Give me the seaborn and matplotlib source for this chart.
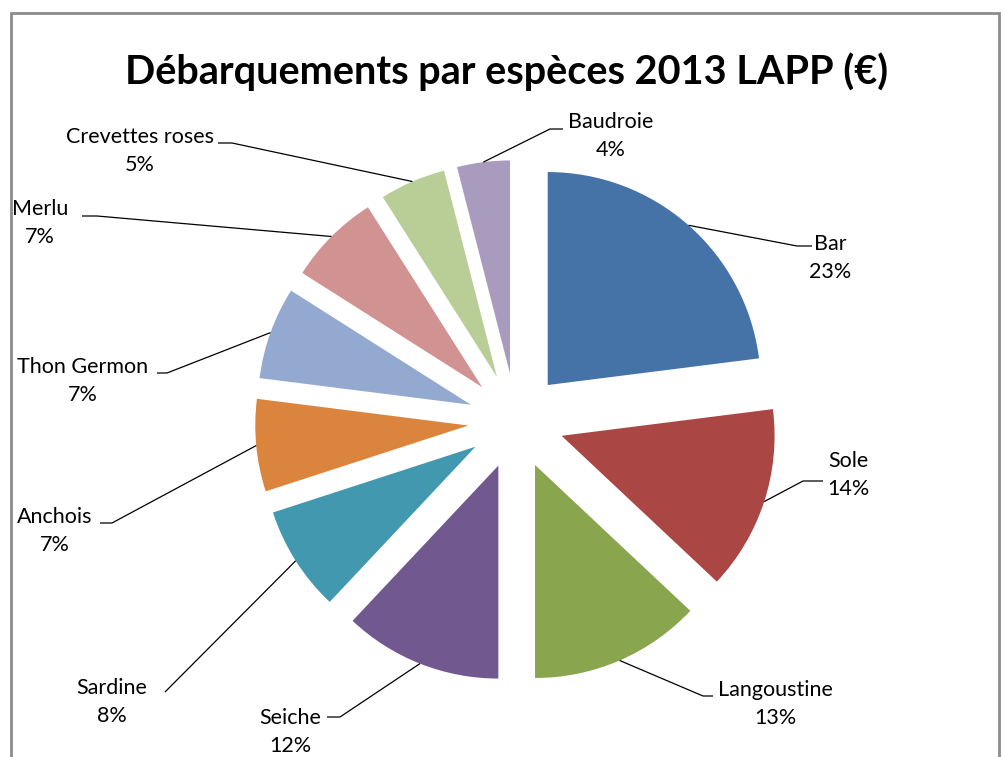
import numpy as np
import matplotlib
matplotlib.use("Agg")
import matplotlib.pyplot as plt
from matplotlib.patches import Rectangle
import seaborn as sns

# Data
species = ["Bar", "Sole", "Langoustine", "Seiche", "Sardine", "Anchois",
           "Thon Germon", "Merlu", "Crevettes roses", "Baudroie"]
shares = [23, 14, 13, 12, 8, 7, 7, 7, 5, 4]
title = "Débarquements par espèces 2013 LAPP (€)"
colors = ["#4572A7", "#AA4643", "#89A54E", "#71588F", "#4198AF",
          "#DB843D", "#93A9CF", "#D19392", "#B9CD96", "#A99BBD"]

# Layout (pixels of the 1005x757 output)
W, H = 1005, 757
CX, CY, R = 516, 421, 213
EXPLODE = 0.225
# label text centre (x, name-line y), leader elbow x, stub end x, stub y
label_layout = [
    (830, 244, 797, 812, 246),
    (848, 461, 803, 823, 481),
    (775, 690, 703, 713, 696),
    (290, 718, 340, 327, 717),
    (112, 688, 165, 165, 692),
    (55, 517, 112, 100, 523),
    (83, 367, 167, 157, 373),
    (40, 209, 97, 82, 216),
    (140, 137, 232, 218, 143),
    (611, 122, 550, 563, 129),
]


def to_data(px, py):
    return (px - CX) / R, (CY - py) / R


sns.set_theme(style="white")
plt.rcParams["font.family"] = ["Lato", "DejaVu Sans"]

fig = plt.figure(figsize=(W / 100, H / 100), dpi=100)
ax = fig.add_axes([0, 0, 1, 1])

wedges, _ = ax.pie(shares, colors=colors, explode=[EXPLODE] * len(shares),
                   startangle=90, counterclock=False, radius=1,
                   wedgeprops=dict(linewidth=0))

ax.set_xlim(-CX / R, (W - CX) / R)
ax.set_ylim((CY - H) / R, CY / R)
ax.set_aspect("equal")
ax.axis("off")

# Leader lines and labels
for w, name, pct, (tx, ty, ex, sx, sy) in zip(wedges, species, shares, label_layout):
    th = np.deg2rad((w.theta1 + w.theta2) / 2)
    ax_pt = ((1 + EXPLODE) * np.cos(th), (1 + EXPLODE) * np.sin(th))
    elbow = to_data(ex, sy)
    stub = to_data(sx, sy)
    ax.plot([ax_pt[0], elbow[0], stub[0]], [ax_pt[1], elbow[1], stub[1]],
            color="black", lw=0.9, solid_capstyle="butt")
    x, y = to_data(tx, ty)
    ax.text(x, y, name, ha="center", va="center", fontsize=15.5, color="black")
    x2, y2 = to_data(tx, ty + 28)
    ax.text(x2, y2, f"{pct}%", ha="center", va="center", fontsize=15.5, color="black")

# Title
tx, ty = to_data(507, 72)
ax.text(tx, ty, title, ha="center", va="center", fontsize=28.5,
        fontweight="bold", color="black")

# Chart border
x0, y0 = to_data(11, 13)
x1, y1 = to_data(999, 800)
ax.add_patch(Rectangle((x0, y1), x1 - x0, y0 - y1, fill=False,
                       edgecolor="#8c8c8c", lw=2, clip_on=False))

fig.savefig("out.png", dpi=100)
